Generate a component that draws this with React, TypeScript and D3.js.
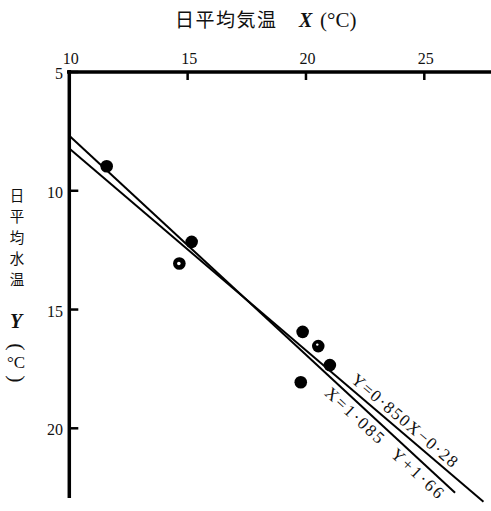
import React from "react";
import * as d3 from "d3";

// ---- data ----
const xTicks = [10, 15, 20, 25];
const yTicks = [5, 10, 15, 20];
const airTemp = [11.58, 15.17, 14.65, 19.86, 20.52, 21.01, 19.78];
const waterTemp = [8.97, 12.15, 13.06, 15.94, 16.54, 17.34, 18.06];
const markerKind = ["solid", "solid", "open", "solid", "dot", "solid", "solid"];
// Y = 0.850 X - 0.28  (regression of Y on X)
const regYonX = { a: 0.85, b: -0.28, from: 10, to: 27.5 };
// X = 1.085 Y + 1.66  (regression of X on Y)
const regXonY = { a: 1.085, b: 1.66, from: 10, to: 26.3 };
const titleX = "日平均気温";
const titleY = ["日", "平", "均", "水", "温"];
const labelYonX = "Y=0·850X−0·28";
const labelXonY1 = "X=1·085";
const labelXonY2 = "Y+1·66";

const SERIF = "Liberation Serif, serif";
const CJK = "Noto Sans CJK JP, Noto Sans CJK SC, sans-serif";

export default function App() {
  const W = 491, H = 511;
  const x = d3.scaleLinear().domain([10, 25]).range([69.3, 424.3]);
  const y = d3.scaleLinear().domain([5, 20]).range([72, 428.3]);

  const fY = (X: number) => regYonX.a * X + regYonX.b;
  const fX = (X: number) => (X - regXonY.b) / regXonY.a;

  const pathFor = (f: (X: number) => number, from: number, to: number) =>
    d3
      .line<number>()
      .x((d) => x(d))
      .y((d) => y(f(d)))([from, to]) as string;

  const labelTransform = (f: (X: number) => number, X0: number, off: number) => {
    const px = x(X0), py = y(f(X0));
    const ang = (Math.atan2(y(f(X0 + 1)) - py, x(X0 + 1) - px) * 180) / Math.PI;
    return `translate(${px},${py}) rotate(${ang}) translate(0,${off})`;
  };

  return (
    <svg width={W} height={H} style={{ position: "absolute", left: 0, top: 0, background: "#fff" }}>
      {/* title */}
      <text x={175} y={27} fontFamily={CJK} fontSize={19} letterSpacing={1.5} fill="#111">
        {titleX}
      </text>
      <text x={299} y={27} fontFamily={SERIF} fontStyle="italic" fontWeight="bold" fontSize={20} fill="#111">
        X
      </text>
      <text x={320} y={27} fontFamily={SERIF} fontSize={21} fill="#111">
        (°C)
      </text>

      {/* vertical y title */}
      {titleY.map((c, i) => (
        <text key={c} x={17} y={194 + i * 21} fontFamily={CJK} fontSize={14.5} textAnchor="middle" dominantBaseline="central" fill="#111">
          {c}
        </text>
      ))}
      <text x={16} y={328} fontFamily={SERIF} fontStyle="italic" fontWeight="bold" fontSize={20} textAnchor="middle" fill="#111">
        Y
      </text>
      <text transform="translate(17,347) rotate(90)" fontFamily={SERIF} fontSize={22} textAnchor="middle" dominantBaseline="central" fill="#111">
        (
      </text>
      <text x={16} y={368} fontFamily={SERIF} fontSize={17} textAnchor="middle" fill="#111">
        °C
      </text>
      <text transform="translate(17,379) rotate(90)" fontFamily={SERIF} fontSize={22} textAnchor="middle" dominantBaseline="central" fill="#111">
        )
      </text>

      {/* axes */}
      <line x1={67} x2={491} y1={y(5)} y2={y(5)} stroke="#000" strokeWidth={3.5} />
      <line x1={x(10)} x2={x(10)} y1={70} y2={498} stroke="#000" strokeWidth={3.5} />
      {xTicks.map((t) => (
        <g key={"xt" + t}>
          <line x1={x(t)} x2={x(t)} y1={y(5)} y2={y(5) + 8} stroke="#000" strokeWidth={2.5} />
          <text x={x(t) + 1.5} y={63.5} fontFamily={SERIF} fontSize={16} textAnchor="middle" fill="#111">
            {t}
          </text>
        </g>
      ))}
      {yTicks.map((t) => (
        <g key={"yt" + t}>
          <line x1={x(10)} x2={x(10) + 9} y1={y(t)} y2={y(t)} stroke="#000" strokeWidth={2.5} />
          <text x={63} y={y(t) + 1.5} fontFamily={SERIF} fontSize={16} textAnchor="end" dominantBaseline="central" fill="#111">
            {t}
          </text>
        </g>
      ))}

      {/* regression lines */}
      <path d={pathFor(fY, regYonX.from, regYonX.to)} stroke="#000" strokeWidth={2} fill="none" />
      <path d={pathFor(fX, regXonY.from, regXonY.to)} stroke="#000" strokeWidth={2} fill="none" />

      {/* line labels */}
      <g transform={labelTransform(fY, 21.72, -5)}>
        <text x={0} y={0} fontFamily={SERIF} fontSize={17} fill="#111" textLength={134} lengthAdjust="spacing">
          {labelYonX}
        </text>
      </g>
      <g transform={labelTransform(fX, 21.24, 17)}>
        <text x={0} y={0} fontFamily={SERIF} fontSize={17} fill="#111" textLength={74} lengthAdjust="spacing">
          {labelXonY1}
        </text>
        <text x={90} y={0} fontFamily={SERIF} fontSize={17} fill="#111" textLength={65} lengthAdjust="spacing">
          {labelXonY2}
        </text>
      </g>

      {/* points */}
      {airTemp.map((a, i) => (
        <g key={"p" + i}>
          <circle cx={x(a)} cy={y(waterTemp[i])} r={6.3} fill="#000" />
          {markerKind[i] === "open" && <circle cx={x(a) - 0.5} cy={y(waterTemp[i])} r={1.8} fill="#fff" />}
          {markerKind[i] === "dot" && <circle cx={x(a) - 1} cy={y(waterTemp[i]) - 1.5} r={1.2} fill="#fff" />}
        </g>
      ))}
    </svg>
  );
}
